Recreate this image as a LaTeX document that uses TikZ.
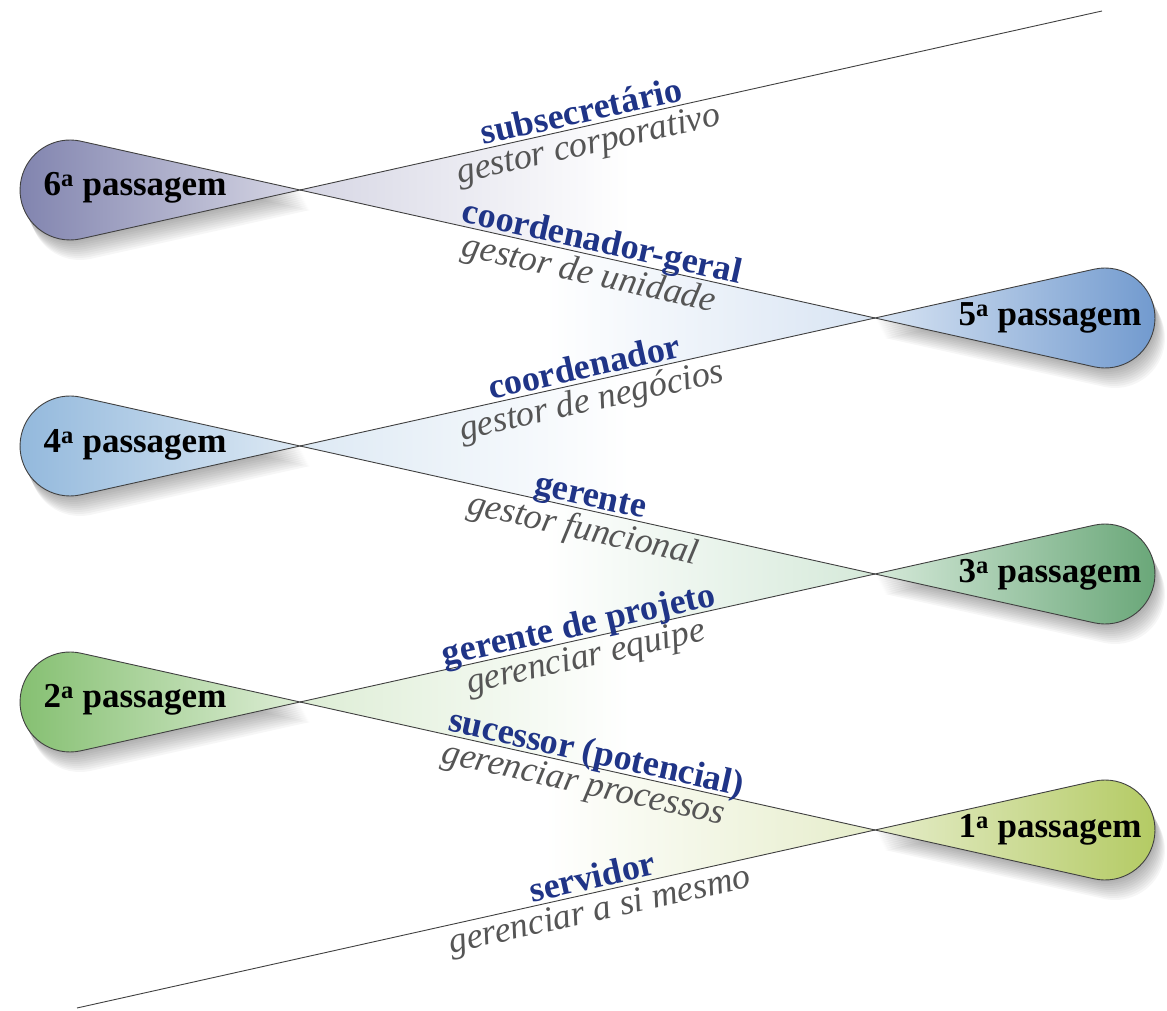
\documentclass[tikz,border=0pt]{standalone}
\usepackage{fontspec}
\setmainfont{Liberation Serif}
\usepackage{xcolor}

\definecolor{linegray}{HTML}{404040}
\definecolor{roleblue}{HTML}{1F3487}
\definecolor{taskgray}{HTML}{555555}
\definecolor{sixdark}{HTML}{8083AE}
\definecolor{sixlight}{HTML}{D6D6E4}
\definecolor{fivedark}{HTML}{7099CE}
\definecolor{fivelight}{HTML}{D8E4F3}
\definecolor{fourdark}{HTML}{92B8DC}
\definecolor{fourlight}{HTML}{DDE9F4}
\definecolor{threedark}{HTML}{68A677}
\definecolor{threelight}{HTML}{D5E9D9}
\definecolor{twodark}{HTML}{84BF70}
\definecolor{twolight}{HTML}{DDEDD5}
\definecolor{onedark}{HTML}{B3CA62}
\definecolor{onelight}{HTML}{E6EDCB}

\tikzset{
  track/.style={draw=linegray, line width=0.9pt},
  bulb/.style={draw=linegray, line width=0.9pt},
  bulbshadow/.style={fill=black, opacity=0.035},
  pass/.style={font=\bfseries\fontsize{35}{40}\selectfont, text=black},
  role/.style={font=\bfseries\fontsize{36}{40}\selectfont, text=roleblue, text depth=0pt, inner sep=3.5pt},
  task/.style={font=\itshape\fontsize{36}{40}\selectfont, text=taskgray, inner sep=4pt}
}

\begin{document}
\begin{tikzpicture}[x=1pt,y=1pt]
\useasboundingbox (0,0) rectangle (1167,1010);
\coordinate (S) at (77,2);
\coordinate (R1) at (875,180);
\coordinate (L2) at (300,308);
\coordinate (R3) at (875,436);
\coordinate (L4) at (300,564);
\coordinate (R5) at (875,692);
\coordinate (L6) at (300,820);
\coordinate (E) at (1102,999);
% soft shadows under the bulbs
\foreach \s in {2,4,...,20} {
  \fill[bulbshadow] ([shift={(0.5*\s,-\s)}]L6) -- ++(-219.1,48.8) arc[start angle=77.45, end angle=282.55, radius=50] -- cycle;
  \fill[bulbshadow] ([shift={(0.5*\s,-\s)}]L4) -- ++(-219.1,48.8) arc[start angle=77.45, end angle=282.55, radius=50] -- cycle;
  \fill[bulbshadow] ([shift={(0.5*\s,-\s)}]L2) -- ++(-219.1,48.8) arc[start angle=77.45, end angle=282.55, radius=50] -- cycle;
  \fill[bulbshadow] ([shift={(0.5*\s,-\s)}]R5) -- ++(219.1,-48.8) arc[start angle=-102.55, end angle=102.55, radius=50] -- cycle;
  \fill[bulbshadow] ([shift={(0.5*\s,-\s)}]R3) -- ++(219.1,-48.8) arc[start angle=-102.55, end angle=102.55, radius=50] -- cycle;
  \fill[bulbshadow] ([shift={(0.5*\s,-\s)}]R1) -- ++(219.1,-48.8) arc[start angle=-102.55, end angle=102.55, radius=50] -- cycle;
}
% faded wedges
\shade[left color=sixlight, right color=white] (L6) -- ++(330,73.5) -- ++(0,-147) -- cycle;
\shade[left color=white, right color=fivelight] (R5) -- ++(-330,73.5) -- ++(0,-147) -- cycle;
\shade[left color=fourlight, right color=white] (L4) -- ++(330,73.5) -- ++(0,-147) -- cycle;
\shade[left color=white, right color=threelight] (R3) -- ++(-330,73.5) -- ++(0,-147) -- cycle;
\shade[left color=twolight, right color=white] (L2) -- ++(330,73.5) -- ++(0,-147) -- cycle;
\shade[left color=white, right color=onelight] (R1) -- ++(-330,73.5) -- ++(0,-147) -- cycle;
% bulbs
\shadedraw[bulb, left color=sixdark, right color=sixlight] (L6) -- ++(-219.1,48.8) arc[start angle=77.45, end angle=282.55, radius=50] -- cycle;
\shadedraw[bulb, left color=fivelight, right color=fivedark] (R5) -- ++(219.1,-48.8) arc[start angle=-102.55, end angle=102.55, radius=50] -- cycle;
\shadedraw[bulb, left color=fourdark, right color=fourlight] (L4) -- ++(-219.1,48.8) arc[start angle=77.45, end angle=282.55, radius=50] -- cycle;
\shadedraw[bulb, left color=threelight, right color=threedark] (R3) -- ++(219.1,-48.8) arc[start angle=-102.55, end angle=102.55, radius=50] -- cycle;
\shadedraw[bulb, left color=twodark, right color=twolight] (L2) -- ++(-219.1,48.8) arc[start angle=77.45, end angle=282.55, radius=50] -- cycle;
\shadedraw[bulb, left color=onelight, right color=onedark] (R1) -- ++(219.1,-48.8) arc[start angle=-102.55, end angle=102.55, radius=50] -- cycle;
% tracks and roles
\draw[track] (S) -- (R1)
  node[role, pos=.65, sloped, above] (servidor) {servidor}
  node[task, pos=.65, sloped, below] (simesmo) {gerenciar a si mesmo};
\draw[track] (L2) -- (R1)
  node[role, pos=.51, sloped, above] (sucessor) {sucessor (potencial)}
  node[task, pos=.50, sloped, below] (processos) {gerenciar processos};
\draw[track] (L2) -- (R3)
  node[role, pos=.49, sloped, above] (projeto) {gerente de projeto}
  node[task, pos=.49, sloped, below] (equipe) {gerenciar equipe};
\draw[track] (L4) -- (R3)
  node[role, pos=.50, sloped, above] (gerente) {gerente}
  node[task, pos=.50, sloped, below] (funcional) {gestor funcional};
\draw[track] (L4) -- (R5)
  node[role, pos=.50, sloped, above] (coordenador) {coordenador}
  node[task, pos=.50, sloped, below] (negocios) {gestor de negócios};
\draw[track] (L6) -- (R5)
  node[role, pos=.52, sloped, above] (geral) {coordenador-geral}
  node[task, pos=.51, sloped, below] (unidade) {gestor de unidade};
\draw[track] (L6) -- (E)
  node[role, pos=.355, sloped, above] (subsec) {subsecretário}
  node[task, pos=.355, sloped, below] (corporativo) {gestor corporativo};
% passagens
\node[pass] (p6) at (135,822) {6\textsuperscript{a} passagem};
\node[pass] (p5) at (1050,692) {5\textsuperscript{a} passagem};
\node[pass] (p4) at (135,565) {4\textsuperscript{a} passagem};
\node[pass] (p3) at (1050,435) {3\textsuperscript{a} passagem};
\node[pass] (p2) at (135,310) {2\textsuperscript{a} passagem};
\node[pass] (p1) at (1050,180) {1\textsuperscript{a} passagem};
\end{tikzpicture}
\end{document}
